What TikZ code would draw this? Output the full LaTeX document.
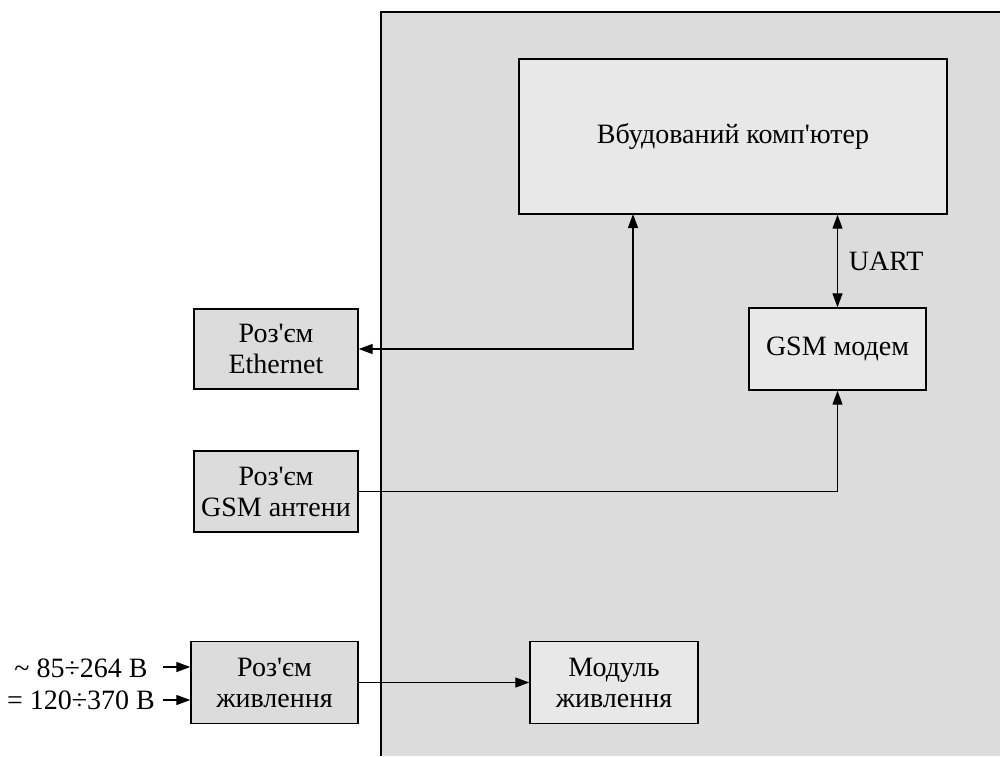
\documentclass[tikz,border=0pt]{standalone}
\usepackage{fontspec}
\setmainfont{Liberation Serif}[Ligatures=TeXOff]
\usetikzlibrary{arrows.meta}
\definecolor{panelgray}{HTML}{DCDCDC}
\definecolor{innergray}{HTML}{E8E8E8}

\begin{document}
\begin{tikzpicture}[x=0.5pt,y=-0.5pt,
 blk/.style={draw,line width=0.7pt,fill=innergray,align=center,inner sep=0pt,
   font=\fontsize{14}{15.5}\selectfont},
 conn/.style={blk,fill=panelgray},
 lbl/.style={font=\fontsize{14}{15.5}\selectfont},
 wire/.style={line width=0.65pt,-{Triangle[length=7pt,width=5pt]}},
 biwire/.style={line width=0.65pt,{Triangle[length=7pt,width=5pt]}-{Triangle[length=7pt,width=5pt]}},
 ]
 \useasboundingbox (0,0) rectangle (1000,756);

 % device housing
 \fill[panelgray] (381,12) rectangle (1000,756);
 \draw[line width=0.7pt] (381,756) -- (381,12) -- (1000,12);

 \node[blk,minimum width=214pt,minimum height=77.5pt] (comp) at (733,136.5) {Вбудований комп'ютер};
 \node[blk,minimum width=88.5pt,minimum height=41pt] (gsm) at (837.5,349) {GSM модем};
 \node[blk,minimum width=84pt,minimum height=41pt] (pwrm) at (614,682.5) {Модуль\\живлення};

 % connectors on the left
 \node[conn,minimum width=82pt,minimum height=40pt] (eth) at (276,349) {Роз'єм\\Ethernet};
 \node[conn,minimum width=82pt,minimum height=40.5pt] (ant) at (276,491.5) {Роз'єм\\GSM антени};
 \node[conn,minimum width=83.5pt,minimum height=41pt] (pwrc) at (274.5,682.5) {Роз'єм\\живлення};

 \node[lbl] (aclbl) at (81,668) {\textasciitilde\ 85÷264 В};
 \node[lbl] (dclbl) at (81,700) {= 120÷370 В};

 \coordinate (acin) at (163,667);
 \coordinate (dcin) at (163,700);
 \coordinate (ethup) at (633,214);


 \draw[biwire] (gsm.north) -- (gsm.north |- comp.south)
   node[lbl,midway,right,xshift=2pt] (uart) {UART};
 \draw[biwire] (eth.east) -| (ethup);
 \draw[wire] (ant.east) -| (gsm.south);
 \draw[wire] (pwrc.east) -- (pwrm.west);
 \draw[wire] (acin) -- (acin -| pwrc.west);
 \draw[wire] (dcin) -- (dcin -| pwrc.west);

\end{tikzpicture}
\end{document}
